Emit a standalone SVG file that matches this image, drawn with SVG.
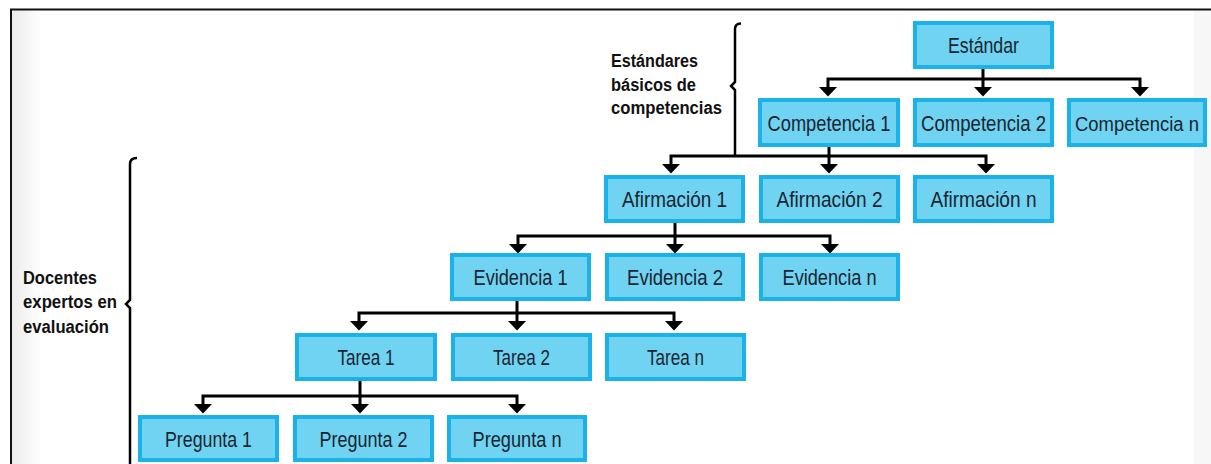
<svg xmlns="http://www.w3.org/2000/svg" width="1211" height="464" viewBox="0 0 1211 464">
  <defs>
    <linearGradient id="lg" x1="0" y1="0" x2="1" y2="0">
      <stop offset="0" stop-color="#ececec"/>
      <stop offset="1" stop-color="#ffffff"/>
    </linearGradient>
    <marker id="ah" markerUnits="userSpaceOnUse" viewBox="0 0 10 20" markerWidth="10" markerHeight="20" refX="0" refY="10" orient="auto">
      <path d="M0,1 L9.5,10 L0,19 Z" fill="#000"/>
    </marker>
    <style>
      .box { fill: #6fd3f1; stroke: #1ab2e7; stroke-width: 4; }
      .lbl { font-family: "Liberation Sans", Arial, sans-serif; font-size: 22px; fill: #1b2530; text-anchor: middle; }
      .side { font-family: "Liberation Sans", Arial, sans-serif; font-size: 18px; font-weight: bold; fill: #111; }
      .con { fill: none; stroke: #000; stroke-width: 3; }
      .brace { fill: none; stroke: #000; stroke-width: 2.5; }
    </style>
  </defs>
  <rect width="1211" height="464" fill="#fff"/>
  <rect x="12" y="10" width="30" height="454" fill="url(#lg)"/>
  <rect x="1194" y="10" width="17" height="454" fill="#f7f7f7"/>
  <path d="M11,464 V9.5 H1211" fill="none" stroke="#111" stroke-width="2"/>

  <g id="connectors">
    <path class="con" d="M983,68 V79 H828 V87" marker-end="url(#ah)"/>
    <path class="con" d="M983,79 V87" marker-end="url(#ah)"/>
    <path class="con" d="M983,79 H1140 V87" marker-end="url(#ah)"/>

    <path class="con" d="M829,147 V156 H671 V164" marker-end="url(#ah)"/>
    <path class="con" d="M829,156 V164" marker-end="url(#ah)"/>
    <path class="con" d="M829,156 H986 V164" marker-end="url(#ah)"/>

    <path class="con" d="M675,222 V236 H518 V244" marker-end="url(#ah)"/>
    <path class="con" d="M675,236 V244" marker-end="url(#ah)"/>
    <path class="con" d="M675,236 H830 V244" marker-end="url(#ah)"/>

    <path class="con" d="M517,301 V313 H359 V321" marker-end="url(#ah)"/>
    <path class="con" d="M517,313 V321" marker-end="url(#ah)"/>
    <path class="con" d="M517,313 H674 V321" marker-end="url(#ah)"/>

    <path class="con" d="M360,381 V396 H203 V404" marker-end="url(#ah)"/>
    <path class="con" d="M360,396 V404" marker-end="url(#ah)"/>
    <path class="con" d="M360,396 H517 V404" marker-end="url(#ah)"/>
  </g>

  <g id="brace-estandares">
    <path class="brace" d="M741,23.5 Q735,23.5 735,29 V82 L731,86 L735,90 V156"/>
    <text class="side" x="611" y="67" textLength="87" lengthAdjust="spacingAndGlyphs">Estándares</text>
    <text class="side" x="611" y="91" textLength="85" lengthAdjust="spacingAndGlyphs">básicos de</text>
    <text class="side" x="611" y="114" textLength="111" lengthAdjust="spacingAndGlyphs">competencias</text>
  </g>

  <g id="brace-docentes">
    <path class="brace" d="M137,158 Q130,158 130,164 V300 L126,304 L130,308 V464"/>
    <text class="side" x="23" y="284" textLength="74" lengthAdjust="spacingAndGlyphs">Docentes</text>
    <text class="side" x="23" y="308" textLength="94" lengthAdjust="spacingAndGlyphs">expertos en</text>
    <text class="side" x="23" y="333" textLength="86" lengthAdjust="spacingAndGlyphs">evaluación</text>
  </g>

  <g id="estandar"><rect class="box" x="915" y="23" width="137" height="44"/><text class="lbl" x="983.5" y="53" textLength="71" lengthAdjust="spacingAndGlyphs">Estándar</text></g>

  <g id="competencia-1"><rect class="box" x="760" y="100" width="138" height="45"/><text class="lbl" x="829" y="131" textLength="123" lengthAdjust="spacingAndGlyphs">Competencia 1</text></g>
  <g id="competencia-2"><rect class="box" x="915" y="100" width="137" height="45"/><text class="lbl" x="983.5" y="131" textLength="125" lengthAdjust="spacingAndGlyphs">Competencia 2</text></g>
  <g id="competencia-n"><rect class="box" x="1069" y="100" width="136" height="45"/><text class="lbl" x="1137" y="131" textLength="124" lengthAdjust="spacingAndGlyphs" style="font-size:20px">Competencia n</text></g>

  <g id="afirmacion-1"><rect class="box" x="606" y="177" width="137" height="44"/><text class="lbl" x="674.5" y="207" textLength="105" lengthAdjust="spacingAndGlyphs">Afirmación 1</text></g>
  <g id="afirmacion-2"><rect class="box" x="761" y="177" width="137" height="44"/><text class="lbl" x="829.5" y="207" textLength="106" lengthAdjust="spacingAndGlyphs">Afirmación 2</text></g>
  <g id="afirmacion-n"><rect class="box" x="915" y="177" width="137" height="44"/><text class="lbl" x="983.5" y="207" textLength="106" lengthAdjust="spacingAndGlyphs">Afirmación n</text></g>

  <g id="evidencia-1"><rect class="box" x="452" y="255" width="137" height="44"/><text class="lbl" x="520.5" y="285" textLength="94" lengthAdjust="spacingAndGlyphs">Evidencia 1</text></g>
  <g id="evidencia-2"><rect class="box" x="607" y="255" width="136" height="44"/><text class="lbl" x="675" y="285" textLength="96" lengthAdjust="spacingAndGlyphs">Evidencia 2</text></g>
  <g id="evidencia-n"><rect class="box" x="761" y="255" width="137" height="44"/><text class="lbl" x="829.5" y="285" textLength="94" lengthAdjust="spacingAndGlyphs">Evidencia n</text></g>

  <g id="tarea-1"><rect class="box" x="297" y="335" width="138" height="44"/><text class="lbl" x="366" y="365" textLength="57" lengthAdjust="spacingAndGlyphs">Tarea 1</text></g>
  <g id="tarea-2"><rect class="box" x="453" y="335" width="137" height="44"/><text class="lbl" x="521.5" y="365" textLength="57" lengthAdjust="spacingAndGlyphs">Tarea 2</text></g>
  <g id="tarea-n"><rect class="box" x="607" y="335" width="137" height="44"/><text class="lbl" x="675.5" y="365" textLength="57" lengthAdjust="spacingAndGlyphs">Tarea n</text></g>

  <g id="pregunta-1"><rect class="box" x="140" y="417" width="137" height="43"/><text class="lbl" x="208.5" y="447" textLength="87" lengthAdjust="spacingAndGlyphs">Pregunta 1</text></g>
  <g id="pregunta-2"><rect class="box" x="295" y="417" width="137" height="43"/><text class="lbl" x="363.5" y="447" textLength="88" lengthAdjust="spacingAndGlyphs">Pregunta 2</text></g>
  <g id="pregunta-n"><rect class="box" x="449" y="417" width="136" height="43"/><text class="lbl" x="517" y="447" textLength="89" lengthAdjust="spacingAndGlyphs">Pregunta n</text></g>
</svg>
